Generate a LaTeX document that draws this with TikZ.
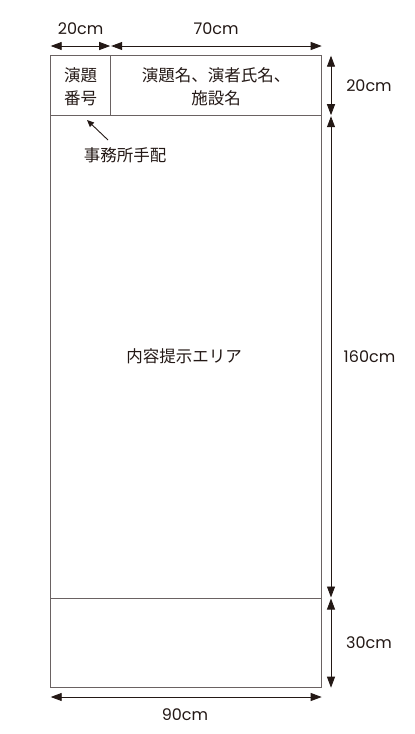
\documentclass[tikz,border=0pt]{standalone}
\usepackage{fontspec}
\setmainfont{Noto Sans CJK JP}
\newfontfamily\latinfont{Poppins}
\usetikzlibrary{arrows.meta}
\definecolor{boxline}{HTML}{6A6262}
\definecolor{ink}{HTML}{231815}
\tikzset{
  frame/.style={draw=boxline, line width=1pt},
  dim/.style={draw=ink, line width=0.9pt, {Triangle[length=11pt,width=8pt]}-{Triangle[length=11pt,width=8pt]}},
  lbl/.style={text=ink, font=\fontsize{16.5}{23}\selectfont, inner sep=0pt, align=center},
  num/.style={text=ink, font=\latinfont\fontsize{16}{20}\selectfont, inner sep=0pt},
  note/.style={draw=ink, line width=0.9pt, -{Triangle[length=7pt,width=6pt]}}
}
\begin{document}
\begin{tikzpicture}[x=1pt,y=-1pt]
\useasboundingbox (0,0) rectangle (415,734);
% frame corners
\coordinate (tl) at (50.7,55.7);
\coordinate (tr) at (321.7,55.7);
\coordinate (hl) at (50.7,115.7);
\coordinate (hr) at (321.7,115.7);
\coordinate (dl) at (50.7,598);
\coordinate (dr) at (321.7,598);
\coordinate (bl) at (50.7,687.7);
\coordinate (br) at (321.7,687.7);
\coordinate (ct) at (110.7,55.7);
\coordinate (cb) at (110.7,115.7);
\draw[frame] (tl) rectangle (br);
\draw[frame] (hl) -- (hr);
\draw[frame] (dl) -- (dr);
\draw[frame] (ct) -- (cb);
% texts
\node[lbl] (num) at (80.7,86.5) {演題\\番号};
\node[lbl] (title) at (216.2,86.5) {演題名、演者氏名、\\施設名};
\node[lbl] (area) at (184,356.5) {内容提示エリア};
\node[lbl] (office) at (125,155.5) {事務所手配};
% top dimension arrows
\coordinate (a1) at (50.7,46);
\coordinate (a2) at (110.2,46);
\coordinate (a3) at (111.2,46);
\coordinate (a4) at (321.7,46);
\draw[dim] (a1) -- (a2);
\draw[dim] (a3) -- (a4);
\node[num] (w20) at (80.7,29) {20cm};
\node[num] (w70) at (216,29) {70cm};
% right dimension arrows
\coordinate (v1) at (331,55.7);
\coordinate (v2) at (331,115.2);
\coordinate (v3) at (331,116.2);
\coordinate (v4) at (331,597.5);
\coordinate (v5) at (331,598.5);
\coordinate (v6) at (331,687.7);
\draw[dim] (v1) -- (v2);
\draw[dim] (v3) -- (v4);
\draw[dim] (v5) -- (v6);
\node[num] (h20) at (369,86) {20cm};
\node[num] (h160) at (369.5,357) {160cm};
\node[num] (h30) at (369,642.5) {30cm};
% bottom dimension arrow
\coordinate (b1) at (50.7,697);
\coordinate (b2) at (321.7,697);
\draw[dim] (b1) -- (b2);
\node[num] (w90) at (185,715) {90cm};
% note arrow
\coordinate (n1) at (108,140);
\coordinate (n2) at (87,120);
\draw[note] (n1) -- (n2);
\end{tikzpicture}
\end{document}
